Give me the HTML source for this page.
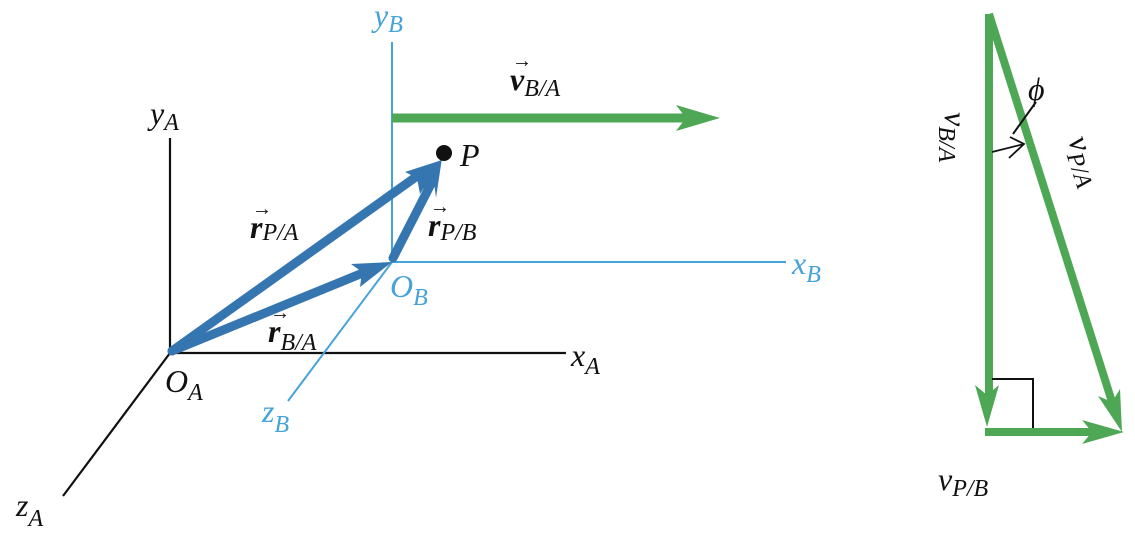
<!DOCTYPE html>
<html><head><meta charset="utf-8"><style>
html,body{margin:0;padding:0;background:#fff;}
svg{display:block;}
text{font-family:"Liberation Serif",serif;font-style:italic;}
</style></head><body>
<svg width="1135" height="557" viewBox="0 0 1135 557" xmlns="http://www.w3.org/2000/svg">
<g stroke="#111" stroke-width="2.2" fill="none">
<line x1="170" y1="138" x2="170" y2="353"/>
<line x1="170" y1="353" x2="566" y2="353"/>
<line x1="170" y1="353" x2="63" y2="496"/>
</g>
<g stroke="#45a3da" stroke-width="2" fill="none">
<line x1="392" y1="42" x2="392" y2="262"/>
<line x1="392" y1="262" x2="786" y2="262"/>
<line x1="392" y1="262" x2="288" y2="401"/>
</g>
<line x1="392" y1="118" x2="690" y2="118" stroke="#4ea755" stroke-width="9"/>
<path d="M720 118 L676 105 L686 118 L676 131 Z" fill="#4ea755"/>
<g stroke="#3676b0" stroke-width="9" stroke-linecap="round">
<line x1="172" y1="351" x2="420" y2="174"/>
<line x1="172" y1="351" x2="370" y2="270"/>
<line x1="393" y1="258" x2="432" y2="182"/>
</g>
<g fill="#3676b0">
<path d="M442 160 L405 172 L417 178 L420 194 Z"/>
<path d="M392 262 L351 264 L362 272 L360 287 Z"/>
<path d="M442 158 L424 178 L434 182 L436 198 Z"/>
</g>
<circle cx="444" cy="153" r="8" fill="#111"/>
<g font-size="32" fill="#111">
<text x="150" y="124">y<tspan font-size="24" dy="6">A</tspan></text>
<text x="571" y="366">x<tspan font-size="24" dy="8">A</tspan></text>
<text x="16" y="516">z<tspan font-size="24" dy="10">A</tspan></text>
<text x="165" y="392">O<tspan font-size="24" dy="8">A</tspan></text>
<text x="460" y="166">P</text>
<text x="250" y="238" font-weight="bold">r<tspan font-weight="normal" font-size="24" dy="2">P/A</tspan></text>
<text x="252" y="215" font-size="20" font-style="normal">→</text>
<text x="428" y="236" font-weight="bold">r<tspan font-weight="normal" font-size="24" dy="4">P/B</tspan></text>
<text x="430" y="213" font-size="20" font-style="normal">→</text>
<text x="268" y="342" font-weight="bold">r<tspan font-weight="normal" font-size="24" dy="8">B/A</tspan></text>
<text x="270" y="319" font-size="20" font-style="normal">→</text>
<text x="510" y="90" font-weight="bold">v<tspan font-weight="normal" font-size="24" dy="6">B/A</tspan></text>
<text x="512" y="67" font-size="20" font-style="normal">→</text>
</g>
<g font-size="32" fill="#45a3da">
<text x="374" y="26">y<tspan font-size="24" dy="6">B</tspan></text>
<text x="792" y="274">x<tspan font-size="24" dy="8">B</tspan></text>
<text x="262" y="422">z<tspan font-size="24" dy="10">B</tspan></text>
<text x="390" y="297">O<tspan font-size="24" dy="8">B</tspan></text>
</g>
<line x1="989" y1="14" x2="989" y2="400" stroke="#4ea755" stroke-width="8"/>
<path d="M987 427 L975 385 L987 395 L999 385 Z" fill="#4ea755"/>
<line x1="989" y1="14" x2="1113" y2="405" stroke="#4ea755" stroke-width="8"/>
<path d="M1122 432 L1098 396 L1112 402 L1120 389 Z" fill="#4ea755"/>
<line x1="985" y1="432" x2="1095" y2="432" stroke="#4ea755" stroke-width="8"/>
<path d="M1124 432 L1082 420 L1092 432 L1082 444 Z" fill="#4ea755"/>
<path d="M992 379 L1033 379 L1033 428" stroke="#111" stroke-width="2" fill="none"/>
<path d="M992 152 Q1008 148 1024 144" stroke="#111" stroke-width="1.8" fill="none"/>
<path d="M1010 137 L1024 144 L1009 158" stroke="#111" stroke-width="1.8" fill="none"/>
<line x1="1013" y1="134" x2="1036" y2="102" stroke="#111" stroke-width="2"/>
<g font-size="32" fill="#111">
<text x="1028" y="100">ϕ</text>
<text x="938" y="490">v<tspan font-size="24" dy="6">P/B</tspan></text>
<text transform="translate(945,112) rotate(90)">v<tspan font-size="24" dy="6">B/A</tspan></text>
<text transform="translate(1068,140) rotate(72)">v<tspan font-size="24" dy="6">P/A</tspan></text>
</g>
</svg>
</body></html>
